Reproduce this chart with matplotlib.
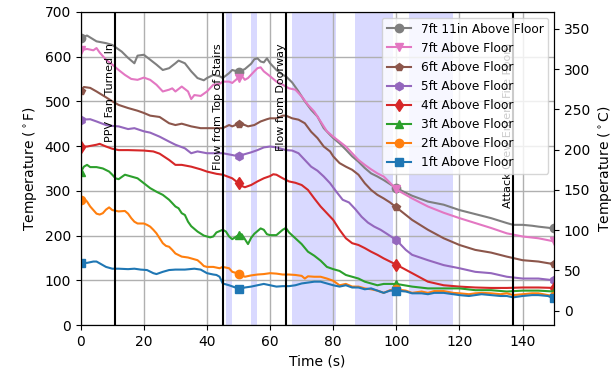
import numpy as np
import matplotlib
matplotlib.use('Agg')
import matplotlib.pyplot as plt
import matplotlib.transforms as mtransforms

# 센서 높이별 온도 (°F), 눈으로 읽은 값
t_7ft11 = [0, 2, 5, 8, 10, 13, 15, 17, 18, 20, 22, 24, 26, 28, 30, 31, 33, 35, 37, 39, 40, 42, 44, 45, 47, 48, 50,
           52, 54, 55, 56, 57, 58, 59, 60, 62, 64, 65, 67, 69, 71, 73, 75, 77, 79, 80, 82, 84, 86, 88, 90, 92, 94,
           96, 98, 100, 105, 110, 115, 120, 125, 130, 135, 137, 140, 143, 145, 150]
T_7ft11 = [642, 647, 634, 630, 626, 611, 597, 585, 602, 604, 593, 582, 570, 574, 585, 591, 585, 567, 552, 547, 552,
           559, 556, 552, 563, 570, 566, 572, 584, 594, 596, 589, 587, 596, 585, 570, 559, 556, 542, 522, 500, 481,
           466, 440, 425, 418, 406, 392, 377, 365, 351, 339, 332, 324, 315, 306, 289, 276, 269, 257, 248, 239, 228,
           224, 224, 222, 220, 216]

t_7ft = [0, 2, 4, 5, 6, 8, 10, 12, 14, 16, 18, 20, 22, 24, 26, 28, 29, 30, 32, 34, 35, 36, 38, 40, 42, 44, 45, 47,
         48, 50, 51, 52, 53, 55, 56, 57, 58, 60, 62, 64, 66, 68, 70, 72, 74, 76, 78, 80, 82, 84, 86, 88, 90, 92, 94,
         96, 98, 100, 105, 110, 115, 120, 125, 130, 135, 140, 145, 150]
T_7ft = [614, 617, 614, 619, 609, 593, 582, 570, 559, 550, 548, 553, 548, 537, 522, 526, 529, 522, 533, 522, 505,
         514, 512, 522, 537, 539, 544, 544, 541, 553, 557, 548, 552, 567, 574, 576, 567, 556, 544, 537, 529, 526,
         511, 492, 477, 455, 433, 421, 410, 399, 384, 369, 358, 348, 339, 332, 318, 303, 283, 265, 251, 239, 228,
         217, 205, 198, 194, 187]

t_6ft = [0, 1, 3, 5, 8, 10, 12, 15, 18, 20, 22, 25, 28, 30, 32, 35, 38, 40, 43, 45, 47, 48, 50, 52, 53, 55, 57, 59,
         60, 62, 64, 65, 67, 69, 71, 73, 75, 77, 79, 80, 82, 84, 86, 88, 90, 92, 94, 96, 98, 100, 105, 110, 115,
         120, 125, 130, 135, 140, 145, 150]
T_6ft = [522, 532, 530, 522, 509, 500, 492, 485, 479, 474, 468, 465, 451, 447, 450, 444, 440, 440, 440, 440, 447,
         444, 450, 447, 444, 447, 455, 460, 462, 462, 468, 468, 462, 459, 451, 432, 418, 399, 388, 377, 362, 354,
         347, 336, 317, 302, 291, 283, 274, 263, 235, 213, 194, 179, 168, 162, 153, 145, 142, 136]

t_5ft = [0, 3, 5, 8, 10, 12, 15, 17, 20, 22, 25, 28, 30, 33, 35, 37, 40, 43, 45, 48, 50, 52, 54, 56, 58, 60, 62, 64,
         65, 67, 69, 71, 73, 75, 77, 79, 81, 83, 85, 87, 89, 91, 93, 95, 97, 100, 103, 105, 110, 115, 120, 125, 130,
         135, 140, 145, 150]
T_5ft = [459, 460, 455, 447, 445, 444, 438, 440, 433, 430, 421, 410, 403, 395, 384, 388, 384, 384, 384, 380, 377,
         382, 386, 391, 397, 399, 397, 393, 391, 390, 384, 369, 354, 345, 332, 317, 298, 280, 274, 259, 242, 229,
         220, 213, 204, 190, 168, 157, 145, 134, 127, 119, 116, 108, 104, 104, 100]

t_4ft = [0, 2, 5, 6, 8, 10, 12, 15, 20, 23, 25, 28, 30, 32, 35, 38, 40, 43, 45, 48, 50, 51, 52, 54, 56, 58, 60, 61,
         62, 64, 66, 68, 70, 72, 74, 76, 78, 80, 82, 84, 86, 88, 90, 92, 94, 96, 98, 100, 105, 110, 115, 120, 125,
         130, 135, 140, 145, 150]
T_4ft = [399, 399, 403, 405, 399, 394, 391, 391, 390, 388, 383, 369, 358, 358, 354, 348, 343, 338, 336, 328, 317,
         311, 308, 313, 321, 328, 333, 337, 336, 328, 321, 318, 313, 302, 283, 265, 250, 235, 213, 194, 183, 179,
         172, 164, 157, 149, 142, 135, 116, 97, 89, 86, 84, 83, 83, 84, 84, 83]

t_3ft = [0, 1, 2, 3, 5, 7, 9, 10, 11, 12, 14, 16, 18, 20, 22, 24, 26, 28, 30, 31, 32, 33, 34, 35, 37, 39, 41, 42, 43,
         45, 46, 47, 48, 50, 51, 52, 53, 54, 55, 56, 57, 58, 59, 60, 62, 63, 64, 65, 66, 68, 70, 72, 74, 76, 78, 80,
         82, 84, 86, 88, 90, 92, 94, 96, 98, 100, 105, 110, 115, 120, 125, 130, 135, 140, 145, 150]
T_3ft = [342, 354, 358, 353, 353, 350, 343, 336, 328, 326, 336, 332, 328, 317, 306, 298, 291, 280, 265, 261, 250,
         246, 231, 221, 209, 200, 196, 198, 207, 213, 209, 198, 192, 201, 203, 192, 181, 195, 204, 210, 216, 213,
         203, 201, 201, 207, 213, 217, 207, 194, 181, 164, 155, 144, 130, 125, 121, 112, 108, 104, 97, 93, 89, 92,
         92, 92, 86, 82, 82, 82, 78, 78, 75, 77, 77, 75]

t_2ft = [0, 1, 2, 3, 4, 5, 6, 7, 8, 9, 10, 12, 14, 15, 16, 17, 18, 20, 21, 22, 23, 24, 25, 26, 27, 28, 29, 30, 32,
         34, 35, 37, 38, 39, 40, 42, 44, 45, 47, 48, 50, 52, 54, 56, 58, 60, 62, 64, 66, 68, 70, 71, 72, 74, 76, 78,
         80, 82, 84, 86, 88, 90, 92, 94, 96, 98, 100, 103, 105, 108, 110, 112, 115, 118, 120, 123, 125, 127, 130,
         133, 135, 137, 140, 143, 145, 148, 150]
T_2ft = [280, 283, 276, 265, 257, 249, 247, 250, 258, 263, 257, 254, 255, 249, 239, 231, 227, 227, 224, 220, 213,
         205, 194, 183, 177, 175, 168, 160, 153, 151, 149, 145, 139, 132, 130, 130, 127, 130, 127, 119, 115, 108,
         111, 113, 114, 116, 115, 113, 113, 112, 110, 104, 109, 108, 108, 104, 99, 89, 92, 86, 86, 82, 80, 77, 72,
         78, 80, 77, 72, 75, 72, 76, 76, 72, 71, 69, 71, 72, 71, 69, 71, 67, 69, 71, 71, 67, 65]

t_1ft = [0, 2, 4, 5, 6, 8, 10, 12, 15, 17, 19, 21, 23, 24, 26, 28, 30, 33, 36, 38, 40, 42, 43, 44, 45, 47, 49, 50,
         52, 54, 56, 58, 60, 62, 64, 66, 68, 70, 72, 74, 76, 78, 80, 82, 84, 86, 88, 90, 92, 94, 96, 98, 100, 103,
         105, 108, 110, 112, 115, 118, 120, 123, 125, 127, 130, 133, 135, 137, 140, 143, 145, 148, 150]
T_1ft = [139, 139, 142, 142, 138, 130, 126, 126, 125, 126, 124, 123, 116, 114, 119, 123, 124, 124, 126, 124, 116,
         113, 112, 108, 93, 89, 84, 80, 84, 86, 89, 92, 89, 86, 87, 87, 89, 93, 95, 97, 97, 93, 89, 86, 89, 84, 84,
         80, 82, 77, 72, 77, 77, 75, 71, 71, 69, 72, 72, 69, 67, 65, 67, 69, 67, 65, 65, 62, 65, 67, 67, 65, 60]

labels = ['7ft 11in Above Floor', '7ft Above Floor', '6ft Above Floor', '5ft Above Floor',
          '4ft Above Floor', '3ft Above Floor', '2ft Above Floor', '1ft Above Floor']
times = [t_7ft11, t_7ft, t_6ft, t_5ft, t_4ft, t_3ft, t_2ft, t_1ft]
temps = [T_7ft11, T_7ft, T_6ft, T_5ft, T_4ft, T_3ft, T_2ft, T_1ft]

# 이벤트 시간 / 환기 구간
event_times = [11, 45, 65, 137]
event_labels = ['PPV Fan Turned In', 'Flow from Top of Stairs', 'Flow from Doorway', 'Attack Crew Enters Fire Room']
vent_spans = [(46, 48), (54, 56), (67, 81), (87, 99), (104, 118)]

colors = ['tab:gray', 'tab:pink', 'tab:brown', 'tab:purple', 'tab:red', 'tab:green', 'tab:orange', 'tab:blue']
markers = ['o', 'v', 'p', 'h', 'd', '^', 'o', 's']
mark_times = [0, 50, 100, 150]

fig, ax1 = plt.subplots(figsize=(6.13, 3.69), dpi=100)
fig.subplots_adjust(left=0.1317, right=0.904, top=0.968, bottom=0.119)

for a, b in vent_spans:
    ax1.axvspan(a, b, color='blue', alpha=0.15, lw=0)

for t, T, lab, c, m in zip(times, temps, labels, colors, markers):
    idx = [t.index(v) for v in mark_times]
    ax1.plot(t, T, color=c, marker=m, markevery=idx, ms=6, lw=1.5, label=lab)

trans = mtransforms.blended_transform_factory(ax1.transData, ax1.transAxes)
for x, lab in zip(event_times, event_labels):
    ax1.axvline(x, color='k', lw=1.5)
    ax1.text(x, 0.9, lab, rotation=90, ha='right', va='top', fontsize=8, transform=trans)

ax1.set_xlim(0, 150)
ax1.set_ylim(0, 700)
ax1.set_xlabel('Time (s)', fontsize=10)
ax1.set_ylabel('Temperature ($^\\circ$F)', fontsize=10)
ax1.tick_params(labelsize=10)
ax1.grid(True, color='#b0b0b0', lw=1)
ax1.legend(loc='upper right', fontsize=8.7)

ax2 = ax1.twinx()
ax2.set_ylim((0 - 32) / 1.8, (700 - 32) / 1.8)
ax2.set_yticks(np.arange(0, 351, 50))
ax2.set_ylabel('Temperature ($^\\circ$C)', fontsize=10)
ax2.tick_params(labelsize=10)

fig.savefig('out.png', dpi=100)
